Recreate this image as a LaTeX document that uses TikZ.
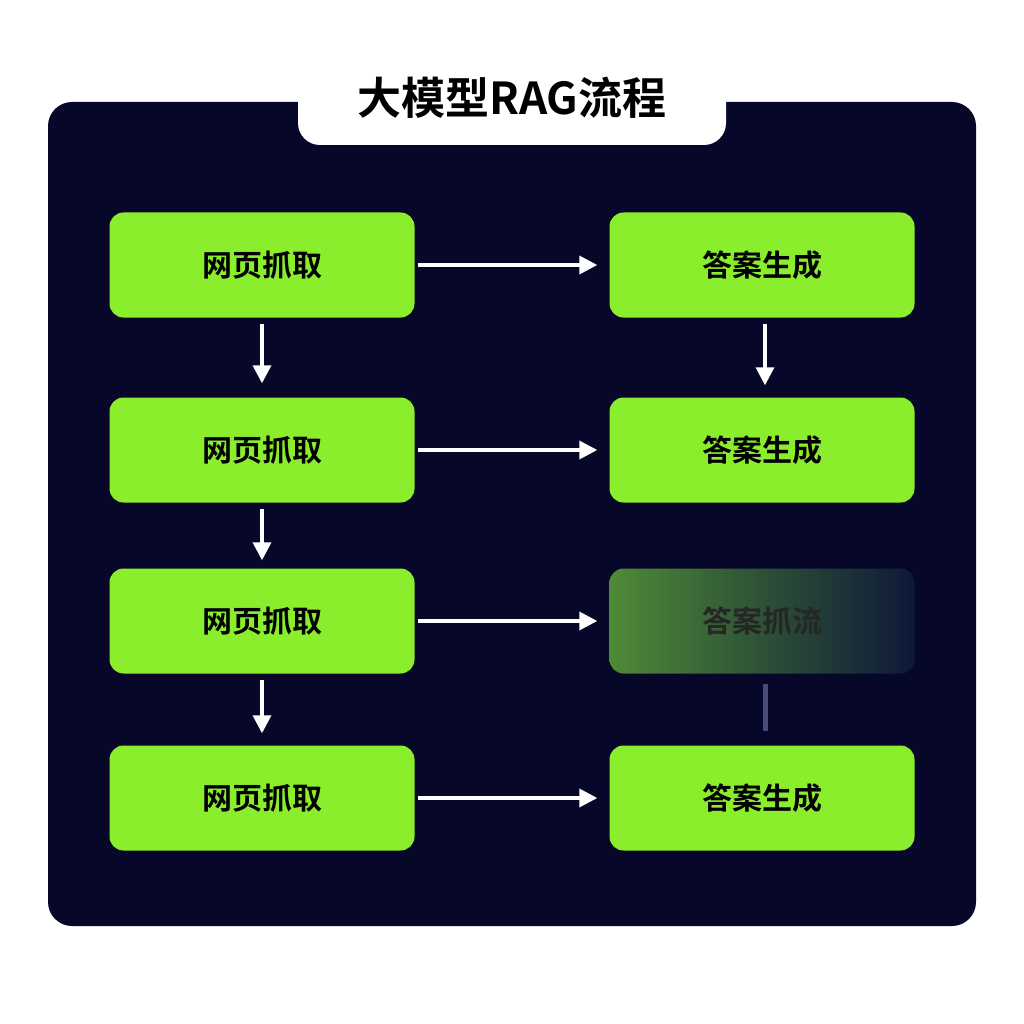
\documentclass[tikz,border=0pt]{standalone}
\usepackage{fontspec}
\setmainfont{Noto Sans CJK SC}[BoldFont={Noto Sans CJK SC Bold}]
\usetikzlibrary{arrows.meta}
\definecolor{panel}{HTML}{07072A}
\definecolor{lime}{HTML}{8AEE2C}
\definecolor{fadeL}{HTML}{4E8A36}
\definecolor{fadeR}{HTML}{0E1838}
\definecolor{grayline}{HTML}{4A4A78}
\begin{document}
\begin{tikzpicture}[x=1pt,y=-1pt,
  box/.style={rounded corners=14pt,fill=lime,minimum width=305pt,minimum height=105pt,inner sep=0pt,
    font=\fontsize{30}{30}\selectfont\bfseries,text=black},
  arr/.style={draw=white,line width=3.5pt,-{Triangle[length=18pt,width=18pt]}}]
\useasboundingbox (0,0) rectangle (1024,1024);
\fill[white] (0,0) rectangle (1024,1024);
\fill[panel,rounded corners=24pt] (48,102) rectangle (976,926);
\fill[white,rounded corners=22pt] (298,-40) rectangle (726,145);
\node (title) at (512,98) {\fontsize{44}{44}\selectfont\bfseries 大模型RAG流程};
\foreach \i/\y in {1/265,2/450,3/621,4/798}{
  \node[box] (L\i) at (262,\y) {网页抓取};
}
\node[box] (R1) at (762,265) {答案生成};
\node[box] (R2) at (762,450) {答案生成};
\node[box,fill=none,left color=fadeL,right color=fadeR,text=black!85] (R3) at (762,621) {答案抓流};
\node[box] (R4) at (762,798) {答案生成};
\foreach \i in {1,2,3,4}{
  \draw[arr] (L\i.east) ++(3,0) coordinate (s\i) -- ([xshift=-12pt]R\i.west);
}
\draw[arr] ([yshift=-6pt]L1.south) -- ([yshift=14pt]L2.north);
\draw[arr] ([yshift=-6pt]L2.south) -- ([yshift=8pt]L3.north);
\draw[arr] ([yshift=-6pt]L3.south) -- ([yshift=12pt]L4.north);
\draw[arr] ([xshift=3pt,yshift=-6pt]R1.south) -- ([xshift=3pt,yshift=12pt]R2.north);
\draw[grayline,line width=5pt] ([xshift=3pt,yshift=-10pt]R3.south) -- ([xshift=3pt,yshift=14pt]R4.north);
\end{tikzpicture}
\end{document}
